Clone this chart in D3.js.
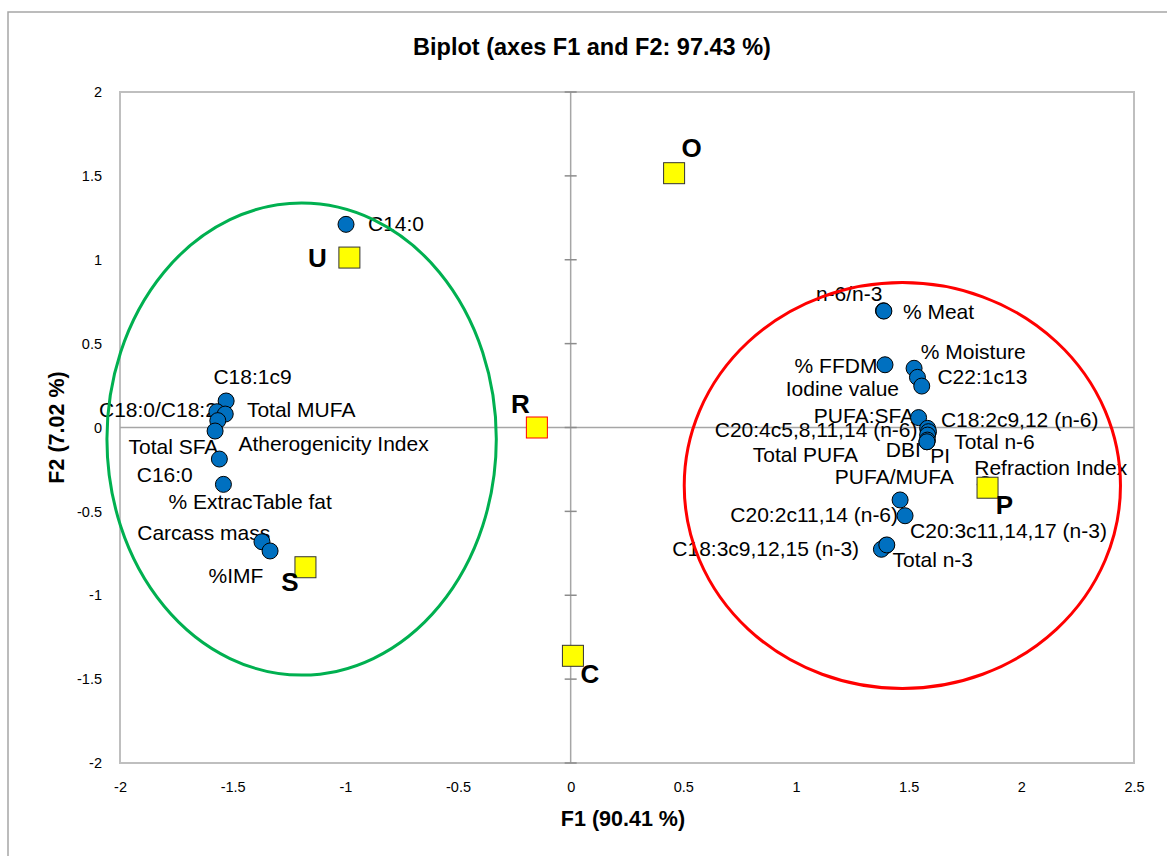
<!DOCTYPE html>
<html>
<head>
<meta charset="utf-8">
<script src="https://cdn.jsdelivr.net/npm/d3@7"></script>
<style>
  body { margin: 0; background: #fff; }
  text { font-family: "Liberation Sans", Arial, sans-serif; fill: #000; }
</style>
</head>
<body>
<div id="chart"></div>
<script>
// observations (yellow squares)
const obsNames = ['O', 'U', 'R', 'S', 'C', 'P'];
const obsF1 = [0.459, -0.982, -0.150, -1.177, 0.010, 1.850];
const obsF2 = [1.516, 1.013, 0.000, -0.833, -1.361, -0.359];

// variables (blue circles)
const varNames = [
  'C14:0', 'C18:1c9', 'C18:0/C18:2', 'Total MUFA', 'Total SFA', 'Atherogenicity Index',
  'C16:0', '% ExtracTable fat', 'Carcass mass', '%IMF',
  'Refraction Index', 'n-6/n-3', '% Meat', '% FFDM', '% Moisture', 'C22:1c13', 'Iodine value',
  'PUFA:SFA', 'C18:2c9,12 (n-6)', 'C20:4c5,8,11,14 (n-6)', 'Total n-6', 'Total PUFA', 'DBI', 'PI',
  'PUFA/MUFA', 'C20:2c11,14 (n-6)', 'C20:3c11,14,17 (n-3)', 'C18:3c9,12,15 (n-3)', 'Total n-3'
];
const varF1 = [
  -0.997, -1.529, -1.570, -1.533, -1.566, -1.578,
  -1.559, -1.541, -1.370, -1.334,
  1.840, 1.388, 1.390, 1.395, 1.524, 1.539, 1.558,
  1.544, 1.584, 1.588, 1.584, 1.581, 1.583, 1.581,
  1.462, 1.484, 1.400, 1.379, 1.403
];
const varF2 = [
  1.211, 0.158, 0.094, 0.080, 0.041, -0.021,
  -0.188, -0.339, -0.681, -0.736,
  -0.340, 0.696, 0.694, 0.374, 0.353, 0.299, 0.247,
  0.059, -0.005, -0.025, -0.045, -0.085, -0.075, -0.085,
  -0.432, -0.526, -0.703, -0.726, -0.700
];

// axis ticks
const xTicks = [-2, -1.5, -1, -0.5, 0, 0.5, 1, 1.5, 2, 2.5];
const yTicks = [-2, -1.5, -1, -0.5, 0, 0.5, 1, 1.5, 2];

// group ellipses in F1/F2 units: cx, cy, rx, ry
const ellipses = [
  { cx: -1.194, cy: -0.069, rx: 0.864, ry: 1.407, color: '#00b050' },
  { cx: 1.472, cy: -0.346, rx: 0.968, ry: 1.210, color: '#ff0000' }
];

// label placement relative to marker (px): [dx, dy, anchor]
const varLabelPos = [
  [22, 7, 'start'], [-12.7, -16.7, 'start'], [0, 5, 'end'], [21.7, 2.7, 'start'], [0.6, 33.6, 'end'],
  [23.3, 19.7, 'start'], [-26.6, 22.7, 'end'], [-55, 25, 'start'], [8.3, -1.7, 'end'], [-6.7, 31.7, 'end'],
  [-11, -9.5, 'start'], [-1, -10, 'end'], [19, 7.6, 'start'], [-7.6, 8, 'end'], [6.7, -9, 'start'],
  [20, 6.7, 'start'], [-22.7, 10, 'end'], [-4.4, 5.6, 'end'], [13.3, -1.6, 'start'], [-11, 5, 'end'],
  [26.6, 14.3, 'start'], [-69, 20, 'end'], [-6.5, 16.7, 'end'], [3.3, 21.6, 'start'],
  [-65.3, -16, 'start'], [-7, 6, 'end'], [23.9, -7.1, 'start'], [-22.3, 6.7, 'end'], [5.7, 22.3, 'start']
];
const obsLabelPos = [
  [7.5, -16.5, 'start'], [-22.5, 9.2, 'end'], [-7.2, -14.8, 'end'],
  [-6.9, 23.8, 'end'], [7.5, 26.9, 'start'], [8.3, 26.3, 'start']
];

const width = 1167, height = 856;
const plot = { left: 120, top: 92, right: 1134, bottom: 763 };

const svg = d3.select('#chart').append('svg')
  .attr('width', width)
  .attr('height', height);

// outer chart frame
svg.append('rect')
  .attr('x', 8).attr('y', 12)
  .attr('width', 1180).attr('height', 870)
  .attr('fill', 'none')
  .attr('stroke', '#a6a6a6')
  .attr('stroke-width', 1.5);

const x = d3.scaleLinear().domain([-2, 2.5]).range([plot.left, plot.right]);
const y = d3.scaleLinear().domain([-2, 2]).range([plot.bottom, plot.top]);

// title
svg.append('text')
  .attr('x', 592).attr('y', 55)
  .attr('text-anchor', 'middle')
  .style('font-weight', 'bold')
  .style('font-size', '23.5px')
  .text('Biplot (axes F1 and F2: 97.43 %)');

// plot area border
svg.append('rect')
  .attr('x', plot.left).attr('y', plot.top)
  .attr('width', plot.right - plot.left).attr('height', plot.bottom - plot.top)
  .attr('fill', 'none')
  .attr('stroke', '#bfbfbf')
  .attr('stroke-width', 2);

// tick labels along the border
const fmt = d => String(d);
const xAxis = svg.append('g')
  .attr('transform', `translate(0,${plot.bottom})`)
  .call(d3.axisBottom(x).tickValues(xTicks).tickSize(0).tickPadding(19).tickFormat(fmt));
const yAxis = svg.append('g')
  .attr('transform', `translate(${plot.left},0)`)
  .call(d3.axisLeft(y).tickValues(yTicks).tickSize(0).tickPadding(18).tickFormat(fmt));
[xAxis, yAxis].forEach(a => {
  a.select('.domain').remove();
  a.selectAll('text').style('font-size', '14.5px').attr('fill', '#000');
});

// zero lines
svg.append('line')
  .attr('x1', plot.left).attr('x2', plot.right)
  .attr('y1', y(0)).attr('y2', y(0))
  .attr('stroke', '#a6a6a6').attr('stroke-width', 1.5);
svg.append('line')
  .attr('x1', x(0)).attr('x2', x(0))
  .attr('y1', plot.top).attr('y2', plot.bottom)
  .attr('stroke', '#a6a6a6').attr('stroke-width', 1.5);
svg.append('g').selectAll('line')
  .data(yTicks)
  .join('line')
  .attr('x1', x(0) - 6).attr('x2', x(0) + 6)
  .attr('y1', d => y(d)).attr('y2', d => y(d))
  .attr('stroke', '#8c8c8c').attr('stroke-width', 1.5);

// axis titles
svg.append('text')
  .attr('x', (plot.left + plot.right) / 2 - 4).attr('y', 826)
  .attr('text-anchor', 'middle')
  .style('font-weight', 'bold').style('font-size', '21.5px')
  .text('F1 (90.41 %)');
svg.append('text')
  .attr('transform', `translate(64,${(plot.top + plot.bottom) / 2}) rotate(-90)`)
  .attr('text-anchor', 'middle')
  .style('font-weight', 'bold').style('font-size', '21.5px')
  .text('F2 (7.02 %)');

const vars = varNames.map((n, i) => ({ name: n, f1: varF1[i], f2: varF2[i], pos: varLabelPos[i] }));
const obs = obsNames.map((n, i) => ({ name: n, f1: obsF1[i], f2: obsF2[i], pos: obsLabelPos[i] }));

// variable labels
svg.append('g').selectAll('text')
  .data(vars)
  .join('text')
  .attr('x', d => x(d.f1) + d.pos[0])
  .attr('y', d => y(d.f2) + d.pos[1])
  .attr('text-anchor', d => d.pos[2])
  .style('font-size', '21px')
  .text(d => d.name);

// variable markers
svg.append('g').selectAll('circle')
  .data(vars)
  .join('circle')
  .attr('cx', d => x(d.f1))
  .attr('cy', d => y(d.f2))
  .attr('r', 8)
  .attr('fill', '#0070c0')
  .attr('stroke', '#000')
  .attr('stroke-width', 1);

// observation markers
svg.append('g').selectAll('rect')
  .data(obs)
  .join('rect')
  .attr('x', d => x(d.f1) - 10.5)
  .attr('y', d => y(d.f2) - 10.5)
  .attr('width', 21).attr('height', 21)
  .attr('fill', '#ffff00')
  .attr('stroke', d => d.name === 'R' ? '#ff0000' : '#333')
  .attr('stroke-width', 1);

svg.append('g').selectAll('text')
  .data(obs)
  .join('text')
  .attr('x', d => x(d.f1) + d.pos[0])
  .attr('y', d => y(d.f2) + d.pos[1])
  .attr('text-anchor', d => d.pos[2])
  .style('font-size', '26px')
  .style('font-weight', 'bold')
  .text(d => d.name);

// group ellipses
svg.append('g').selectAll('ellipse')
  .data(ellipses)
  .join('ellipse')
  .attr('cx', d => x(d.cx))
  .attr('cy', d => y(d.cy))
  .attr('rx', d => x(d.cx + d.rx) - x(d.cx))
  .attr('ry', d => y(d.cy) - y(d.cy + d.ry))
  .attr('fill', 'none')
  .attr('stroke', d => d.color)
  .attr('stroke-width', 3);
</script>
</body>
</html>
